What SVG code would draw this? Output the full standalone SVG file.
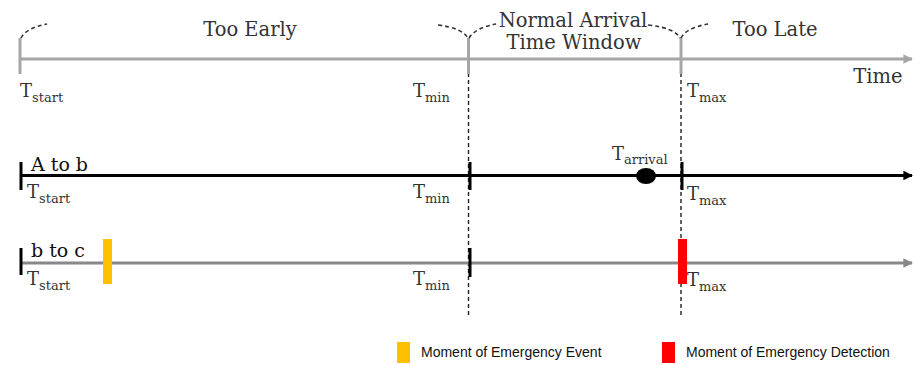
<svg xmlns="http://www.w3.org/2000/svg" width="915" height="365" viewBox="0 0 915 365">
  <style>
    .lbl { font-family: "DejaVu Serif", "Liberation Serif", serif; fill: #333; }
    .head { font-size: 19.5px; }
    .big { font-size: 18px; }
    .sub { font-size: 13px; }
    .row { font-family: "DejaVu Serif", "Liberation Serif", serif; font-size: 19px; fill: #111; }
    .arc { fill: none; stroke: #333; stroke-width: 1.6; stroke-dasharray: 4 3; }
    .guide { stroke: #222; stroke-width: 1.4; stroke-dasharray: 4 3; }
    .legend { font-family: "Liberation Sans", Arial, sans-serif; font-size: 14px; fill: #111; }
  </style>
  <defs>
    <marker id="arrGray" viewBox="0 0 10 10" refX="9" refY="5" markerWidth="3.2" markerHeight="3.2" orient="auto">
      <path d="M0,0 L10,5 L0,10 z" fill="#a6a6a6"/>
    </marker>
    <marker id="arrBlack" viewBox="0 0 10 10" refX="9" refY="5" markerWidth="3.2" markerHeight="3.2" orient="auto">
      <path d="M0,0 L10,5 L0,10 z" fill="#000"/>
    </marker>
    <marker id="arrMid" viewBox="0 0 10 10" refX="9" refY="5" markerWidth="3.2" markerHeight="3.2" orient="auto">
      <path d="M0,0 L10,5 L0,10 z" fill="#888"/>
    </marker>
  </defs>

  <!-- vertical guides at T_min and T_max -->
  <g id="guides">
    <line class="guide" x1="468.5" y1="73" x2="468.5" y2="318"/>
    <line class="guide" x1="681" y1="73" x2="681" y2="318"/>
  </g>

  <!-- reference time axis -->
  <g id="axis">
    <line x1="20" y1="59" x2="912" y2="59" stroke="#a6a6a6" stroke-width="3" marker-end="url(#arrGray)"/>
    <line x1="20" y1="38" x2="20" y2="74" stroke="#a6a6a6" stroke-width="3"/>
    <line x1="468.5" y1="38" x2="468.5" y2="74" stroke="#a6a6a6" stroke-width="3"/>
    <line x1="681" y1="38" x2="681" y2="74" stroke="#a6a6a6" stroke-width="3"/>
    <path class="arc" d="M21,38 Q26,28 47,24"/>
    <path class="arc" d="M438,25 Q462,28 468,38"/>
    <path class="arc" d="M469,38 Q475,28 496,24"/>
    <path class="arc" d="M648,25 Q675,28 680,38"/>
    <path class="arc" d="M681,38 Q686,28 708,24"/>
    <text class="lbl head" x="250" y="36" text-anchor="middle">Too Early</text>
    <text class="lbl head" x="573" y="27" text-anchor="middle">Normal Arrival</text>
    <text class="lbl head" x="574" y="49" text-anchor="middle">Time Window</text>
    <text class="lbl head" x="775" y="36" text-anchor="middle">Too Late</text>
    <text class="lbl head" x="878" y="83" text-anchor="middle">Time</text>
    <text class="lbl" x="20" y="97"><tspan class="big">T</tspan><tspan class="sub" dy="5">start</tspan></text>
    <text class="lbl" x="413" y="97"><tspan class="big">T</tspan><tspan class="sub" dy="5">min</tspan></text>
    <text class="lbl" x="687" y="97"><tspan class="big">T</tspan><tspan class="sub" dy="5">max</tspan></text>
  </g>

  <!-- trip A to b -->
  <g id="trip-ab">
    <line x1="20" y1="175.5" x2="912" y2="175.5" stroke="#000" stroke-width="3" marker-end="url(#arrBlack)"/>
    <line x1="21" y1="162" x2="21" y2="190" stroke="#000" stroke-width="3"/>
    <line x1="470" y1="162" x2="470" y2="190" stroke="#000" stroke-width="3"/>
    <line x1="682" y1="162" x2="682" y2="190" stroke="#000" stroke-width="3"/>
    <ellipse cx="646" cy="176" rx="10" ry="8" fill="#000"/>
    <text class="row" x="31" y="171">A to b</text>
    <text class="lbl" x="27" y="198"><tspan class="big">T</tspan><tspan class="sub" dy="5">start</tspan></text>
    <text class="lbl" x="413" y="198"><tspan class="big">T</tspan><tspan class="sub" dy="5">min</tspan></text>
    <text class="lbl" x="612" y="160"><tspan class="big">T</tspan><tspan class="sub" dy="4">arrival</tspan></text>
    <text class="lbl" x="687" y="200"><tspan class="big">T</tspan><tspan class="sub" dy="5">max</tspan></text>
  </g>

  <!-- trip b to c -->
  <g id="trip-bc">
    <line x1="20" y1="263" x2="912" y2="263" stroke="#888" stroke-width="3" marker-end="url(#arrMid)"/>
    <line x1="21" y1="248" x2="21" y2="275" stroke="#000" stroke-width="3"/>
    <line x1="470" y1="248" x2="470" y2="277" stroke="#000" stroke-width="3"/>
    <rect x="103" y="239" width="9" height="45" fill="#ffc000"/>
    <rect x="678" y="239" width="9" height="45" fill="#ff0000"/>
    <text class="row" x="31" y="257">b to c</text>
    <text class="lbl" x="27" y="285"><tspan class="big">T</tspan><tspan class="sub" dy="5">start</tspan></text>
    <text class="lbl" x="413" y="285"><tspan class="big">T</tspan><tspan class="sub" dy="5">min</tspan></text>
    <text class="lbl" x="687" y="286"><tspan class="big">T</tspan><tspan class="sub" dy="5">max</tspan></text>
  </g>

  <!-- legend -->
  <g id="legend">
    <rect x="397" y="342" width="13" height="21" fill="#ffc000"/>
    <text class="legend" x="421" y="357">Moment of Emergency Event</text>
    <rect x="662" y="342" width="13" height="21" fill="#ff0000"/>
    <text class="legend" x="686" y="357">Moment of Emergency Detection</text>
  </g>
</svg>
